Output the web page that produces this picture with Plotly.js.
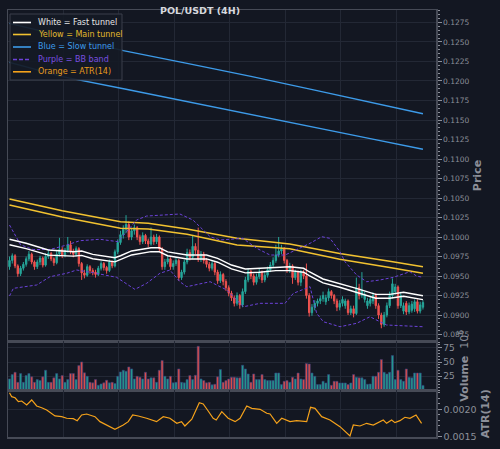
<!DOCTYPE html>
<html><head><meta charset="utf-8">
<script src="https://cdn.plot.ly/plotly-3.0.1.min.js"></script>
<style>html,body{margin:0;padding:0;background:#131722;}#chart{width:500px;height:449px;}</style>
</head><body><div id="chart"></div>
<script>
// ---------- DATA ----------
const chartTitle = 'POL/USDT (4H)';
const candleCount = 150;
const bars = Array.from({length: candleCount}, (_, i) => i); // candle index (4H bars)

const open = [
0.0962,0.0970,0.0976,0.0963,0.0953,0.0960,0.0965,0.0972,0.0978,0.0968,
0.0962,0.0968,0.0973,0.0964,0.0975,0.0979,0.0972,0.0967,0.0978,0.0984,
0.0977,0.0983,0.0990,0.0982,0.0978,0.0985,0.0966,0.0954,0.0951,0.0962,
0.0957,0.0955,0.0952,0.0960,0.0966,0.0961,0.0957,0.0968,0.0963,0.0981,
0.0993,0.1003,0.1010,0.1016,0.1000,0.1008,0.1012,0.1000,0.0994,0.1002,
0.0995,0.0991,0.1000,0.0994,0.1000,0.0985,0.0962,0.0968,0.0972,0.0962,
0.0966,0.0970,0.0948,0.0955,0.0968,0.0980,0.0974,0.0988,0.0983,0.0972,
0.0978,0.0970,0.0965,0.0960,0.0966,0.0955,0.0944,0.0952,0.0943,0.0935,
0.0928,0.0922,0.0915,0.0925,0.0913,0.0930,0.0945,0.0956,0.0950,0.0942,
0.0949,0.0955,0.0945,0.0951,0.0958,0.0964,0.0970,0.0977,0.0982,0.0985,
0.0970,0.0958,0.0963,0.0948,0.0955,0.0942,0.0955,0.0950,0.0925,0.0903,
0.0910,0.0915,0.0918,0.0921,0.0917,0.0922,0.0930,0.0925,0.0918,0.0910,
0.0915,0.0912,0.0918,0.0903,0.0908,0.0902,0.0935,0.0925,0.0920,0.0912,
0.0915,0.0918,0.0925,0.0912,0.0900,0.0888,0.0900,0.0912,0.0925,0.0930,
0.0936,0.0912,0.0905,0.0915,0.0904,0.0906,0.0908,0.0917,0.0905,0.0910];
const close = [
0.0970,0.0976,0.0963,0.0953,0.0960,0.0965,0.0972,0.0978,0.0968,0.0962,
0.0968,0.0973,0.0964,0.0975,0.0979,0.0972,0.0967,0.0978,0.0984,0.0977,
0.0983,0.0990,0.0982,0.0978,0.0985,0.0966,0.0954,0.0951,0.0962,0.0957,
0.0955,0.0952,0.0960,0.0966,0.0961,0.0957,0.0968,0.0963,0.0981,0.0993,
0.1003,0.1010,0.1016,0.1000,0.1008,0.1012,0.1000,0.0994,0.1002,0.0995,
0.0991,0.1000,0.0994,0.1000,0.0985,0.0962,0.0968,0.0972,0.0962,0.0966,
0.0970,0.0948,0.0955,0.0968,0.0980,0.0974,0.0988,0.0983,0.0972,0.0978,
0.0970,0.0965,0.0960,0.0966,0.0955,0.0944,0.0952,0.0943,0.0935,0.0928,
0.0922,0.0915,0.0925,0.0913,0.0930,0.0945,0.0956,0.0950,0.0942,0.0949,
0.0955,0.0945,0.0951,0.0958,0.0964,0.0970,0.0977,0.0982,0.0985,0.0970,
0.0958,0.0963,0.0948,0.0955,0.0942,0.0955,0.0950,0.0925,0.0903,0.0910,
0.0915,0.0918,0.0921,0.0925,0.0922,0.0930,0.0925,0.0918,0.0910,0.0915,
0.0920,0.0918,0.0903,0.0908,0.0902,0.0935,0.0925,0.0932,0.0926,0.0918,
0.0920,0.0925,0.0912,0.0900,0.0888,0.0900,0.0912,0.0925,0.0940,0.0936,
0.0912,0.0925,0.0912,0.0904,0.0912,0.0914,0.0917,0.0905,0.0913,0.0916];
const high = [
0.0975,0.0979,0.0978,0.0965,0.0963,0.0968,0.0975,0.0982,0.0980,0.0970,
0.0971,0.0976,0.0975,0.0979,0.0983,0.0981,0.0974,0.0982,0.0999,0.0987,
0.0986,0.1000,0.0995,0.0985,0.0988,0.0987,0.0968,0.0958,0.0965,0.0964,
0.0960,0.0958,0.0963,0.0969,0.0968,0.0963,0.0971,0.0970,0.0984,0.0997,
0.1008,0.1015,0.1028,0.1020,0.1012,0.1016,0.1014,0.1003,0.1006,0.1004,
0.0998,0.1012,0.1003,0.1004,0.1002,0.0987,0.0972,0.0976,0.0974,0.0970,
0.0974,0.0972,0.0958,0.0971,0.0985,0.0984,0.1002,0.0992,0.1012,0.0982,
0.0981,0.0973,0.0968,0.0970,0.0968,0.0958,0.0956,0.0954,0.0946,0.0938,
0.0931,0.0925,0.0929,0.0927,0.0934,0.0949,0.0960,0.0958,0.0953,0.0953,
0.0960,0.0957,0.0955,0.0962,0.0968,0.0974,0.0990,0.1000,0.0990,0.0987,
0.0972,0.0967,0.0965,0.0958,0.0957,0.0958,0.0958,0.0966,0.0928,0.0914,
0.0919,0.0921,0.0925,0.0930,0.0926,0.0934,0.0932,0.0927,0.0921,0.0919,
0.0924,0.0921,0.0920,0.0912,0.0912,0.0948,0.0940,0.0955,0.0930,0.0922,
0.0924,0.0929,0.0928,0.0915,0.0903,0.0904,0.0916,0.0930,0.0947,0.0940,
0.0938,0.0930,0.0916,0.0918,0.0916,0.0918,0.0920,0.0920,0.0917,0.0919];
const low = [
0.0958,0.0966,0.0960,0.0949,0.0950,0.0957,0.0962,0.0969,0.0965,0.0958,
0.0959,0.0964,0.0961,0.0962,0.0972,0.0969,0.0963,0.0965,0.0975,0.0973,
0.0974,0.0980,0.0978,0.0974,0.0975,0.0962,0.0945,0.0947,0.0949,0.0953,
0.0951,0.0948,0.0950,0.0957,0.0957,0.0953,0.0955,0.0960,0.0961,0.0978,
0.0990,0.0998,0.1005,0.0996,0.0996,0.1003,0.0996,0.0990,0.0991,0.0991,
0.0987,0.0989,0.0990,0.0991,0.0982,0.0958,0.0958,0.0965,0.0958,0.0958,
0.0963,0.0944,0.0945,0.0952,0.0965,0.0970,0.0972,0.0978,0.0968,0.0968,
0.0966,0.0961,0.0956,0.0957,0.0951,0.0940,0.0941,0.0938,0.0931,0.0924,
0.0918,0.0911,0.0912,0.0908,0.0910,0.0927,0.0942,0.0946,0.0938,0.0939,
0.0946,0.0941,0.0942,0.0948,0.0955,0.0961,0.0967,0.0974,0.0978,0.0966,
0.0954,0.0954,0.0940,0.0945,0.0938,0.0937,0.0946,0.0921,0.0898,0.0899,
0.0906,0.0911,0.0914,0.0917,0.0913,0.0918,0.0921,0.0914,0.0905,0.0906,
0.0911,0.0908,0.0900,0.0900,0.0897,0.0900,0.0920,0.0922,0.0916,0.0908,
0.0911,0.0914,0.0908,0.0895,0.0883,0.0885,0.0897,0.0909,0.0921,0.0926,
0.0908,0.0909,0.0901,0.0900,0.0901,0.0903,0.0904,0.0902,0.0902,0.0907];
// volume in millions (axis shows x10^6)
const volume = [
20.4,28,32,14.4,29.7,14.4,26.2,29.7,24,14.4,
19.2,17.6,24,35.6,14.4,14.4,22.2,29.7,20.4,26.2,
14.4,19.2,29.7,29.7,19.2,43.8,50.3,31,25,14.4,
13.4,19.2,9.2,11.6,13.4,18,13.4,14.4,12.4,25,
32.7,35.6,34,41.5,38,20.4,25,23.5,20.4,32,
20.4,22.2,22.2,14.4,35.6,52.6,25,20.4,25,13.4,
14.4,38,14.4,13.4,19.2,26.2,19.2,26.8,77.8,20.4,
17.6,13.4,14.4,9.9,11,24,36.8,14.5,17.4,20.3,
23.3,23.3,22.2,22.2,44.4,37.9,29.1,14.5,29.1,19.2,
19.2,27.9,19.2,17.4,17.4,17.4,30.8,30.8,10.4,16.2,
17.4,14.5,23.3,20.3,30.8,20.3,19.2,47.3,46.7,30.8,
25.1,10.4,10.4,16.2,13.3,27.9,9.2,16.2,16.2,13.3,
13.3,13.3,10.4,13.3,27.9,23.3,22.2,22.2,19.2,11,
11.4,25.1,25.1,32,54.4,32,29.1,32,61.4,19.2,
35.6,19.2,16.2,37.9,23.3,22.2,30.8,30.8,30.8,9];

// Fast tunnel (white), read at these bar positions
const fastX = [0,6,14,23,26,30,38,40,44,51,54,57,64,71,75,80,85,90,96,101,106,108,113,119,125,132,137,142,149];
const fastUpper = [0.09971,0.09920,0.09833,0.09812,0.09821,0.09778,0.09735,0.09760,0.09821,0.09863,0.09862,0.09810,0.09769,0.09769,0.09727,0.09641,0.09590,0.09599,0.09619,0.09619,0.09599,0.09555,0.09462,0.09406,0.09342,0.09265,0.09265,0.09291,0.09247];
const fastLower = [0.09901,0.09852,0.09768,0.09755,0.09764,0.09722,0.09682,0.09708,0.09770,0.09812,0.09811,0.09760,0.09719,0.09719,0.09677,0.09591,0.09540,0.09549,0.09569,0.09569,0.09549,0.09505,0.09412,0.09356,0.09292,0.09215,0.09215,0.09241,0.09197];
// Main tunnel (yellow)
const mainX = [0,19,40,50,64,82,101,119,137,149];
const mainUpper = [0.10487,0.10337,0.10196,0.10176,0.10103,0.09983,0.09910,0.09790,0.09688,0.09619];
const mainLower = [0.10410,0.10257,0.10112,0.10103,0.10035,0.09897,0.09850,0.09715,0.09609,0.09535];
// Slow tunnel (blue)
const slowUpperX = [0,20,41,64,87,110,130,149];
const slowUpper = [0.1274,0.12565,0.1239,0.12225,0.1206,0.11882,0.11727,0.1158];
const slowLowerX = [0,19,42,64,87,110,130,149];
const slowLower = [0.1224,0.12055,0.11894,0.11738,0.11572,0.11406,0.11262,0.11125];
// Bollinger band (purple)
const bbUpperX = [0,4,8.5,14.6,20.6,25.4,32.6,39.1,42.2,45.8,49.4,54.2,61.4,66.1,72.3,75.9,84.1,89.1,93.9,99.3,104.7,108.3,112.5,115.5,119.1,120.9,125.1,128.7,133.5,138.3,144.3,146.7,149];
const bbUpper = [0.10154,0.09900,0.09840,0.09840,0.09897,0.09953,0.09971,0.09940,0.10068,0.10218,0.10269,0.10282,0.10295,0.10218,0.10004,0.09962,0.09983,0.09855,0.09769,0.09769,0.09855,0.09919,0.10004,0.09983,0.09811,0.09683,0.09513,0.09427,0.09449,0.09483,0.09555,0.09500,0.09483];
const bbLowerX = [0,1.4,9.8,14.6,20.6,24.2,30.2,38.6,45.2,49.4,54.2,57.8,61.4,63.9,72.3,78.3,84.3,90.3,99.3,102.3,108.3,110.7,113.1,119.1,125.1,129.9,135.9,143.1,149];
const bbLower = [0.09244,0.09342,0.09385,0.09491,0.09535,0.09577,0.09542,0.09483,0.09329,0.09406,0.09535,0.09577,0.09427,0.09363,0.09427,0.09321,0.09106,0.09150,0.09150,0.09278,0.09363,0.09022,0.08914,0.08850,0.08894,0.08978,0.08872,0.08859,0.08850];
// ATR(14)
const atrX = [0,0.8,2,3.2,4.4,6.2,8,9.8,11.6,13.4,16.4,18.8,20.6,23,24.4,26,27.8,30.8,32.6,35,38,41,42.8,44.4,46.4,49.4,53,55.4,57.8,60.3,62,63.2,65.7,68.4,69.8,71.6,73.4,74.5,76.5,78.8,81.3,83.1,85.5,87.3,90.3,92.7,93.9,96.3,98.1,101.1,103.5,107.1,108.5,110.1,112.5,115.5,119.1,122.7,123.9,126.3,128.7,131.1,134.7,135.9,137.7,138.9,140.7,142.5,144.3,146.5,148.5];
const atr = [0.002303,0.00223,0.00221,0.002139,0.002151,0.002078,0.00217,0.00206,0.002029,0.001987,0.001878,0.001865,0.001836,0.001829,0.001792,0.001896,0.001914,0.001865,0.001774,0.001713,0.001635,0.001713,0.001774,0.001896,0.001878,0.001836,0.001774,0.001865,0.001836,0.001744,0.001774,0.001695,0.001818,0.00212,0.002097,0.001969,0.001836,0.001805,0.001956,0.001836,0.001774,0.001836,0.00206,0.002018,0.0020,0.001927,0.001914,0.001744,0.001836,0.001774,0.001792,0.001774,0.002036,0.002018,0.001865,0.001805,0.001683,0.001513,0.001713,0.001695,0.001744,0.001713,0.001805,0.001744,0.001805,0.001756,0.001792,0.001854,0.001836,0.001896,0.001744];

const legendLabels = ['White = Fast tunnel','Yellow = Main tunnel','Blue = Slow tunnel','Purple = BB band','Orange = ATR(14)'];

// ---------- STYLE ----------
const FONT = 'DejaVu Sans';
const BG = '#131722', GRID = '#232835', FRAME = '#464a56', LABEL = '#8c8f99';
const UP = '#26a69a', DOWN = '#ef5350';
const C_WHITE = '#ffffff', C_YELLOW = '#f2c230', C_BLUE = '#3d9be9', C_PURPLE = '#6b42d8', C_ORANGE = '#f5a21b';
const legendColors = [C_WHITE, C_YELLOW, C_BLUE, C_PURPLE, C_ORANGE];
const legendText = ['#e6e6e6', '#e2b92c', '#3d9be9', '#7a4fe0', '#e8991c'];
const gridX = [19.4, 39.4, 59.4, 79.4, 99.4, 119.4, 139.4];

const volColors = bars.map(i => close[i] >= open[i] ? 'rgba(38,166,154,0.9)' : 'rgba(239,83,80,0.9)');

const line = (x, y, color, width, dash, xa, ya) => ({
  type: 'scatter', mode: 'lines', x, y, xaxis: xa || 'x', yaxis: ya || 'y',
  line: {color, width, dash: dash || 'solid'}, hoverinfo: 'skip', showlegend: false
});

const traces = [
  {type: 'candlestick', x: bars, open, high, low, close, xaxis: 'x', yaxis: 'y',
   increasing: {line: {color: UP, width: 1}, fillcolor: UP},
   decreasing: {line: {color: DOWN, width: 1}, fillcolor: DOWN},
   whiskerwidth: 0, hoverinfo: 'skip', showlegend: false},
  line(slowUpperX, slowUpper, C_BLUE, 1.3),
  line(slowLowerX, slowLower, C_BLUE, 1.3),
  line(mainX, mainUpper, C_YELLOW, 1.5),
  line(mainX, mainLower, C_YELLOW, 1.5),
  line(bbUpperX, bbUpper, C_PURPLE, 1, '3px,2px'),
  line(bbLowerX, bbLower, C_PURPLE, 1, '3px,2px'),
  line(fastX, fastUpper, C_WHITE, 1.4),
  line(fastX, fastLower, C_WHITE, 1.4),
  {type: 'bar', x: bars, y: volume, xaxis: 'x2', yaxis: 'y2',
   marker: {color: volColors, line: {color: '#34407a', width: 0.6}},
   hoverinfo: 'skip', showlegend: false},
  line(atrX, atr, C_ORANGE, 1.2, 'solid', 'x3', 'y3')
];

// pixel helpers for the hand-drawn legend (plot area: x 8..436, y 10..437)
const PX = px => (px - 8) / 428;
const PY = py => (437 - py) / 427;

const xBase = {range: [-0.54, 153.7], showticklabels: false, ticks: '', tickvals: gridX,
  showgrid: true, gridcolor: GRID, gridwidth: 1, zeroline: false,
  showline: true, mirror: true, linecolor: FRAME, linewidth: 1.5, fixedrange: true};
const yBase = {side: 'right', ticks: 'outside', ticklen: 4, tickcolor: LABEL, tickwidth: 1,
  showgrid: true, gridcolor: GRID, gridwidth: 1, zeroline: false,
  showline: true, mirror: true, linecolor: FRAME, linewidth: 1.5, fixedrange: true};

const shapes = [
  {type: 'rect', xref: 'paper', yref: 'paper', x0: PX(10), x1: PX(122), y0: PY(80), y1: PY(14),
   fillcolor: 'rgba(21,26,37,0.92)', line: {color: '#3a3e4a', width: 1}, layer: 'above'}
];
const rowsY = [22.5, 34.5, 47, 59.5, 71.8];
const annotations = [];
legendLabels.forEach((t, k) => {
  shapes.push({type: 'line', xref: 'paper', yref: 'paper', x0: PX(13), x1: PX(31), y0: PY(rowsY[k]), y1: PY(rowsY[k]),
    line: {color: legendColors[k], width: 1.6, dash: k === 3 ? '4px,2px' : 'solid'}, layer: 'above'});
  annotations.push({xref: 'paper', yref: 'paper', x: PX(36), y: PY(rowsY[k]), xanchor: 'left', yanchor: 'middle',
    text: t, showarrow: false, font: {family: FONT, size: 8, color: legendText[k]}});
});

const layout = {
  width: 500, height: 449,
  paper_bgcolor: BG, plot_bgcolor: BG,
  margin: {l: 8, r: 64, t: 10, b: 12},
  font: {family: FONT, color: LABEL},
  showlegend: false,
  bargap: 0.22,
  title: {text: '<b>' + chartTitle + '</b>', x: 0.4, xref: 'container', xanchor: 'center',
          y: 1 - 11 / 449, yref: 'container', yanchor: 'middle',
          font: {family: FONT, size: 9.5, color: '#d6d8de'}},
  xaxis: Object.assign({}, xBase, {anchor: 'y', rangeslider: {visible: false}}),
  xaxis2: Object.assign({}, xBase, {anchor: 'y2', matches: 'x'}),
  xaxis3: Object.assign({}, xBase, {anchor: 'y3', matches: 'x'}),
  yaxis: Object.assign({}, yBase, {anchor: 'x', domain: [0.22482, 1], range: [0.08667, 0.1291],
    tick0: 0, dtick: 0.0025, tickformat: '.4f', tickfont: {family: FONT, size: 7.5, color: LABEL},
    minor: {ticks: 'outside', ticklen: 2, dtick: 0.0005, tickcolor: LABEL, showgrid: false},
    title: {text: '<b>Price</b>', standoff: 5, font: {family: FONT, size: 11, color: LABEL}}}),
  yaxis2: Object.assign({}, yBase, {anchor: 'x2', domain: [0.1089, 0.22482], range: [0, 87],
    tickvals: [25, 50, 75], tickfont: {family: FONT, size: 9, color: LABEL},
    minor: {ticks: 'outside', ticklen: 2, dtick: 5, tickcolor: LABEL, showgrid: false},
    title: {text: '<b>Volume</b>  10<sup>6</sup>', standoff: 6, font: {family: FONT, size: 11, color: LABEL}}}),
  yaxis3: Object.assign({}, yBase, {anchor: 'x3', domain: [0, 0.1089], range: [0.001494, 0.002343],
    tickvals: [0.0015, 0.0020], tickformat: '.4f', tickfont: {family: FONT, size: 9.5, color: LABEL},
    minor: {ticks: 'outside', ticklen: 2, dtick: 0.0001, tickcolor: LABEL, showgrid: false},
    title: {text: '<b>ATR(14)</b>', standoff: 5, font: {family: FONT, size: 11, color: LABEL}}}),
  shapes, annotations
};

Plotly.newPlot('chart', traces, layout, {staticPlot: true, displayModeBar: false});
</script>
</body></html>
